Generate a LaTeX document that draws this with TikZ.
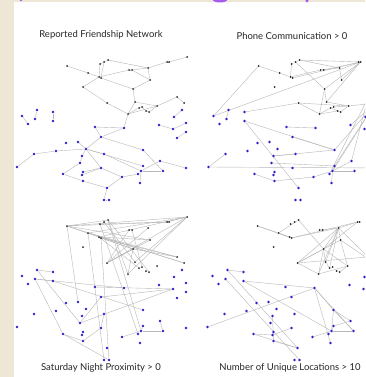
\documentclass[tikz,border=0pt]{standalone}
\usepackage{fontspec}
\setmainfont{Lato}
\usetikzlibrary{backgrounds}
\definecolor{parchemin}{RGB}{239,231,213}
\definecolor{bleunoeud}{RGB}{45,30,205}
\definecolor{lila}{RGB}{165,90,240}

% the same people in every panel, #1 is the panel prefix
\newcommand{\gens}[1]{%
  \foreach \n/\x/\y in {k1/67/66, k2/88/73, k3/100/64, k4/104/62, k5/108/60, k6/99/77, k7/101/78,
    k8/129/70, k9/132/70, k10/148/68, k11/150/80, k12/167/62, k13/169/62, k14/187/57, k15/83/87,
    k16/133/89, k17/107/103, k18/128/114, k19/135/102, k20/139/108, k21/142/107, k22/146/111,
    k23/149/112, k24/157/106, k25/177/97, k26/184/103}
    {\node[nnoeud] (#1\n) at (\x,\y) {};}
  \foreach \n/\x/\y in {u1/22/116, u2/28/124, u3/37/110, u4/35/119, u5/53/112, u6/53/121, u7/95/127,
    u8/124/128, u9/101/137, u10/66/143, u11/78/142, u12/86/149, u13/56/151, u14/34/154, u15/17/167,
    u16/82/156, u17/80/163, u18/104/154, u19/143/150, u20/160/161, u21/163/171, u22/186/168,
    u23/143/166, u24/141/171, u25/138/174, u26/140/183, u27/122/177, u28/101/168, u29/83/172,
    u30/82/175, u31/83/181, u32/63/174, u33/107/188, u34/104/200, u35/109/200, u36/159/125,
    u37/173/129, u38/186/123, u39/182/110, u40/174/117, u41/186/132, u42/177/138}
    {\node[bnoeud] (#1\n) at (\x,\y) {};}
}

\begin{document}
\begin{tikzpicture}[x=1pt,y=-1pt]
\tikzset{bnoeud/.style={circle, fill=bleunoeud, inner sep=0pt, minimum size=2.8pt},
  nnoeud/.style={circle, fill=black!85, inner sep=0pt, minimum size=2pt},
  lien/.style={draw=black!28, line width=0.4pt},
  titre/.style={font=\fontsize{9.5}{11}\selectfont, text=black!85}}
\useasboundingbox (0,0) rectangle (365,377);
\begin{pgfonlayer}{background}
\clip (0,0) rectangle (365,377);
\fill[parchemin] (0,0) rectangle (365,377);
\fill[white] (14,2) rectangle (365,377);
\fill[lila] (220,0) ellipse (7 and 2.5);
\fill[lila] (307,0) ellipse (1.5 and 2.5);
\fill[lila] (21,0) ellipse (1.5 and 1.5);
\end{pgfonlayer}

\begin{scope}
\gens{f}
\end{scope}
\begin{scope}[shift={(191.5,0)}]
\gens{p}
\end{scope}
\begin{scope}[shift={(0,160)}]
\gens{s}
\end{scope}
\begin{scope}[shift={(190.5,160)}]
\gens{l}
\end{scope}

\node[titre] (tf) at (101,35) {Reported Friendship Network};
\node[titre] (tp) at (292,36) {Phone Communication > 0};
\node[titre] (ts) at (101,368) {Saturday Night Proximity > 0};
\node[titre] (tl) at (290,368) {Number of Unique Locations > 10};

\begin{pgfonlayer}{background}
\clip (14,2) rectangle (365,377);
% reported friendship
\foreach \a/\b in {k1/k2, k2/k6, k3/k6, k4/k7, k3/k4, k4/k5, k5/k10, k6/k8, k8/k9, k9/k10, k9/k11,
  k10/k11, k7/k16, k11/k16, k10/k12, k12/k13, k13/k14, k15/k6, k15/k17, k17/k18, k16/k19, k19/k18,
  k18/k24, k18/k20, k19/k24, k20/k21, k21/k22, k22/k23, k23/k24, k24/k25, k25/k26, k18/u8,
  u1/u2, u3/u4, u5/u6, u36/u37, u37/u38, u39/u40, u41/u42, u7/u8, u7/u9, u9/u8, u9/u12, u9/u19,
  u11/u12, u12/u13, u13/u14, u14/u15, u12/u16, u16/u17, u17/u32, u32/u31, u12/u28, u12/u18,
  u18/u24, u12/u23, u29/u28, u30/u28, u31/u33, u28/u27, u27/u25, u27/u33, u33/u34, u34/u35,
  u19/u21, u20/u22, u20/u24, u24/u26, u24/u21}
  \draw[lien] (f\a) -- (f\b);
% phone
\foreach \a/\b in {k1/k2, k2/k6, k1/u1, k3/k4, k4/k5, k3/k6, k4/k16, k5/k13, k5/k10, k7/k13, k6/k8,
  k8/k10, k10/k11, k9/k13, k11/k13, k16/k13, k16/k19, k16/k18, k19/k13, k17/k18, k17/k24, k18/k20,
  k20/k23, k21/k24, k23/k24, k24/k26, k19/k24, k18/k22, u1/k13, u5/k17, u3/u4, u6/u19, u6/u33,
  u7/u8, u9/u19, u14/u15, u15/u22, u16/u18, u16/u19, u17/u23, u32/u31, u31/u27, u27/u24, u23/u24,
  u24/u26, u24/u20, u21/u24, u25/k25, u24/k26, u23/k26, u19/k26, u20/k14, u36/k26}
  \draw[lien] (p\a) -- (p\b);
% saturday night
\foreach \a/\b in {k1/k5, k1/k13, k1/k14, k1/k11, k1/k16, k1/k26, k1/u11, k14/k2, k14/k6, k14/k17,
  k14/k18, k14/k12, k2/k25, k2/k26, k6/k11, k7/k25, k7/k16, k5/k18, k5/k23, k3/k13, k4/k19, k8/k17,
  k10/k17, k16/k18, k16/k25, k17/k11, k19/k14, k5/u24, k2/u34, k3/u25, k7/u35, k6/k20, k9/k21,
  k16/k17, u3/u5, u4/u6, u4/u8, u4/u32, u3/u17, u6/u19, u7/u37, u9/u37, u9/u17, u37/u17, u32/u31,
  u31/u28, u28/u18, u20/u21, u21/u24, u27/u24, u24/u23, u32/u35}
  \draw[lien] (s\a) -- (s\b);
% unique locations
\foreach \a/\b in {k1/k2, k2/k7, k1/k7, k2/k6, k6/k7, k2/k5, k5/k16, k7/k12, k7/k10, k10/k12, k8/k10,
  k10/k16, k10/k19, k10/k20, k10/k17, k10/k18, k10/k11, k11/k17, k11/k24, k17/k18, k17/k16, k16/k18,
  k16/k19, k19/k20, k18/k24, k16/k24, k23/k24, k12/k16, k10/k26, k11/k26, k17/k25,
  u3/u5, u3/u33, u4/u35, u6/u8, u6/u24, u15/u8, u8/u19, u8/u26, u8/u21, u19/u24, u19/u21, u19/u20,
  u20/u23, u23/u24, u24/u27, u24/u21, u32/u30, u32/u33, u30/u28, u31/u33, u16/u31}
  \draw[lien] (l\a) -- (l\b);
\end{pgfonlayer}
\end{tikzpicture}
\end{document}
